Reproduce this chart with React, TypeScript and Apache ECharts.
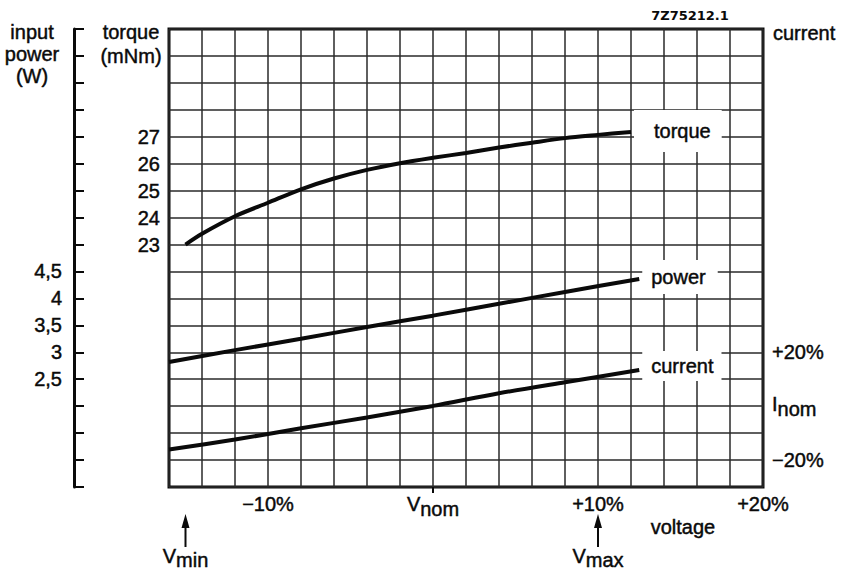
import React, { useEffect, useRef } from 'react';
import * as echarts from 'echarts';

// ---- data ----
const torqueVoltage = [-15, -14, -12, -10, -8, -6, -4, -2, 0, 2, 4, 6, 8, 10, 12];
const torqueValues = [23.0, 23.4, 24.05, 24.55, 25.05, 25.45, 25.77, 26.02, 26.22, 26.4, 26.6, 26.78, 26.95, 27.07, 27.18];
const lineVoltage = [-16, -12, -8, -4, 0, 4, 8, 12.5];
const powerValues = [2.82, 3.04, 3.25, 3.47, 3.68, 3.9, 4.12, 4.36];
const currentValues = [-16.1, -12.4, -8.2, -4.2, 0.1, 4.8, 8.9, 13.4];

const voltageTickLabels = [-10, 0, 10, 20];
const torqueTickLabels = [23, 24, 25, 26, 27];
const powerTickLabels = [2.5, 3, 3.5, 4, 4.5];
const currentTickLabels = [-20, 0, 20];
const voltageMarkers = [
  { value: -15, sub: 'min' },
  { value: 10, sub: 'max' },
];

const FONT = "'Liberation Sans', Arial, sans-serif";
const INK = '#0a0a0a';
const GRIDLINE = { color: '#2a2a2a', width: 1.5 };
const BOLDEN = { textBorderColor: INK, textBorderWidth: 0.45 };

const pct = (v: number) => (v > 0 ? `+${v}%` : v < 0 ? `\u2212${-v}%` : '');

export default function App() {
  const ref = useRef<HTMLDivElement>(null);

  useEffect(() => {
    document.body.style.margin = '0';
    if (!ref.current) return;
    const chart = echarts.init(ref.current, undefined, { renderer: 'svg' });

    const subRich = {
      v: { fontSize: 20, fontFamily: FONT, color: INK, padding: [0, 0, 5, 0], ...BOLDEN },
      s: { fontSize: 20, fontFamily: FONT, color: INK, padding: [5, 0, 0, 0], ...BOLDEN },
    };
    const labelBase = { fontSize: 20, fontFamily: FONT, color: INK, ...BOLDEN };

    const option: any = {
      animation: false,
      backgroundColor: '#fff',
      textStyle: { fontFamily: FONT, color: INK },
      grid: {
        left: 169,
        right: 82,
        top: 29,
        bottom: 83,
        show: true,
        borderColor: INK,
        borderWidth: 3,
        backgroundColor: 'transparent',
      },
      xAxis: {
        type: 'value',
        min: -16,
        max: 20,
        interval: 2,
        axisLine: { show: false },
        axisTick: { show: false },
        splitLine: { show: true, lineStyle: GRIDLINE },
        axisLabel: {
          show: true,
          margin: 7,
          ...labelBase,
          showMinLabel: true,
          showMaxLabel: true,
          formatter: (v: number) => {
            if (!voltageTickLabels.includes(v)) return '';
            if (v === 0) return '{v|V}{s|nom}';
            return pct(v);
          },
          rich: subRich,
        },
      },
      yAxis: [
        {
          type: 'value',
          min: 14,
          max: 31,
          interval: 1,
          position: 'left',
          axisLine: { show: false },
          axisTick: { show: false },
          splitLine: { show: true, lineStyle: GRIDLINE },
          axisLabel: {
            margin: 9,
            ...labelBase,
            formatter: (v: number) => (torqueTickLabels.includes(v) ? String(v) : ''),
          },
        },
        {
          type: 'value',
          min: 0.5,
          max: 9,
          interval: 0.5,
          position: 'left',
          offset: 95,
          axisLine: { show: true, onZero: false, lineStyle: { color: INK, width: 3 } },
          axisTick: { show: true, inside: true, length: 10, lineStyle: { color: INK, width: 2 } },
          splitLine: { show: false },
          axisLabel: {
            margin: 12,
            ...labelBase,
            formatter: (v: number) =>
              powerTickLabels.includes(v) ? String(v).replace('.', ',') : '',
          },
        },
        {
          type: 'value',
          min: -30,
          max: 140,
          interval: 10,
          position: 'right',
          axisLine: { show: false },
          axisTick: { show: false },
          splitLine: { show: false },
          axisLabel: {
            margin: 9,
            ...labelBase,
            formatter: (v: number) => {
              if (!currentTickLabels.includes(v)) return '';
              if (v === 0) return '{v|I}{s|nom}';
              return pct(v);
            },
            rich: subRich,
          },
        },
      ],
      series: [
        {
          type: 'line',
          name: 'torque',
          yAxisIndex: 0,
          data: torqueVoltage.map((x, i) => [x, torqueValues[i]]),
          smooth: 0.3,
          symbol: 'none',
          showSymbol: false,
          lineStyle: { color: INK, width: 4 },
          endLabel: {
            show: true,
            formatter: 'torque',
            distance: 3,
            offset: [0, -1],
            backgroundColor: '#fff',
            padding: [11, 11, 11, 20],
            ...labelBase,
          },
          z: 3,
        },
        {
          type: 'line',
          name: 'power',
          yAxisIndex: 1,
          data: lineVoltage.map((x, i) => [x, powerValues[i]]),
          smooth: 0.3,
          symbol: 'none',
          showSymbol: false,
          lineStyle: { color: INK, width: 4 },
          endLabel: {
            show: true,
            formatter: 'power',
            distance: 3,
            offset: [0, -2],
            backgroundColor: '#fff',
            padding: [7, 12, 7, 9],
            ...labelBase,
          },
          z: 3,
        },
        {
          type: 'line',
          name: 'current',
          yAxisIndex: 2,
          data: lineVoltage.map((x, i) => [x, currentValues[i]]),
          smooth: 0.3,
          symbol: 'none',
          showSymbol: false,
          lineStyle: { color: INK, width: 4 },
          endLabel: {
            show: true,
            formatter: 'current',
            distance: 3,
            offset: [0, -4],
            backgroundColor: '#fff',
            padding: [5, 8, 5, 9],
            ...labelBase,
          },
          z: 3,
        },
      ],
    };

    chart.setOption(option);

    const px = (v: number) => chart.convertToPixel({ xAxisIndex: 0 }, v) as number;
    const yBottom = chart.convertToPixel({ yAxisIndex: 0 }, 14) as number;

    const textStyle = (extra: any) => ({
      fontFamily: FONT,
      fontSize: 20,
      fill: INK,
      stroke: INK,
      lineWidth: 0.45,
      ...extra,
    });

    const graphics: any[] = [
      // Vnom tick below the axis
      {
        type: 'line',
        shape: { x1: px(0), y1: yBottom, x2: px(0), y2: yBottom + 6 },
        style: { stroke: INK, lineWidth: 2 },
        z: 10,
      },
      {
        type: 'text',
        x: 32,
        y: 21,
        style: textStyle({ text: 'input\npower\n(W)', textAlign: 'center', lineHeight: 22 }),
      },
      {
        type: 'text',
        x: 131,
        y: 20,
        style: textStyle({ text: 'torque\n(mNm)', textAlign: 'center', lineHeight: 24 }),
      },
      {
        type: 'text',
        x: 773,
        y: 33,
        style: textStyle({ text: 'current', textAlign: 'left', textVerticalAlign: 'middle' }),
      },
      {
        type: 'text',
        x: 683,
        y: 527,
        style: textStyle({ text: 'voltage', textAlign: 'center', textVerticalAlign: 'middle' }),
      },
      {
        type: 'text',
        x: 690,
        y: 15,
        style: {
          text: '7Z75212.1',
          fontFamily: "'DejaVu Sans', sans-serif",
          fontWeight: 'bold',
          fontSize: 13,
          fill: INK,
          textAlign: 'center',
          textVerticalAlign: 'middle',
        },
      },
    ];

    // zrender-style rich text for graphic elements
    const markRich = {
      v: { fontSize: 20, fontFamily: FONT, fill: INK, stroke: INK, lineWidth: 0.45, padding: [0, 0, 4, 0] },
      s: { fontSize: 20, fontFamily: FONT, fill: INK, stroke: INK, lineWidth: 0.45, padding: [4, 0, 0, 0] },
    };

    voltageMarkers.forEach((m) => {
      const x = px(m.value);
      graphics.push(
        {
          type: 'line',
          shape: { x1: x, y1: 524, x2: x, y2: 547 },
          style: { stroke: INK, lineWidth: 2 },
        },
        {
          type: 'polygon',
          shape: { points: [[x, 514], [x - 4, 528], [x + 4, 528]] },
          style: { fill: INK },
        },
        {
          type: 'text',
          x: x,
          y: 546,
          style: {
            text: `{v|V}{s|${m.sub}}`,
            align: 'center',
            verticalAlign: 'top',
            rich: markRich,
            fontFamily: FONT,
            fontSize: 20,
            fill: INK,
          },
        }
      );
    });

    chart.setOption({ graphic: graphics });

    return () => chart.dispose();
  }, []);

  return <div ref={ref} style={{ width: 845, height: 570 }} />;
}
